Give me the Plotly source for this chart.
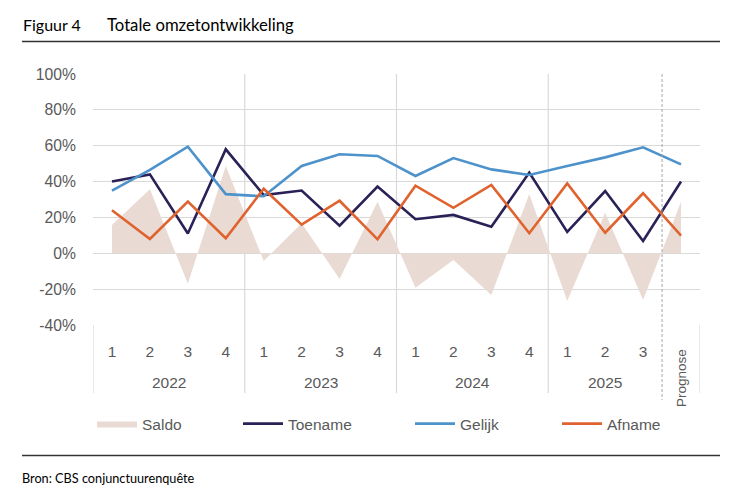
import plotly.graph_objects as go

# ---- data ----
quarters = ["1", "2", "3", "4", "1", "2", "3", "4", "1", "2", "3", "4", "1", "2", "3", ""]
years = ["2022", "2023", "2024", "2025"]
year_positions = [1.5, 5.5, 9.5, 13.0]
prognose_label = "Prognose"
y_tick_values = [-40, -20, 0, 20, 40, 60, 80, 100]
y_tick_labels = ["-40%", "-20%", "0%", "20%", "40%", "60%", "80%", "100%"]

toename = [40, 44, 11, 58, 32.5, 35, 15.4, 37.2, 19, 21.4, 14.8, 45, 11.9, 34.7, 6.9, 40]
gelijk = [35, 46.5, 59.5, 33, 31.8, 48.7, 55.2, 54.3, 43.1, 53.1, 46.8, 43.7, 48.7, 53.5, 59.1, 49.6]
afname = [24, 8, 28.8, 8.4, 36, 16, 29.3, 7.8, 37.7, 25.4, 38.1, 11.2, 39, 11.5, 33.5, 9.8]
saldo = [15.8, 35.7, -17, 48.7, -4.3, 16.7, -14.3, 28.8, -19.2, -3.7, -23.3, 33, -26.6, 22.6, -26, 28.8]

x = list(range(len(quarters)))

W, H = 735, 504
L, R, T, B = 93, 700, 74, 325
pw, ph = R - L, B - T


def px(v):
    return (v - L) / pw


def py(v):
    return (B - v) / ph


TICK_FONT = "Liberation Sans, Arial, sans-serif"
TITLE_FONT = "Lato, Open Sans, sans-serif"
GREY = "#595959"
GRID = "#d9d9d9"

fig = go.Figure()
fig.add_trace(go.Scatter(x=x, y=saldo, name="Saldo", mode="lines", fill="tozeroy",
                         line=dict(width=0, color="#e9dbd3"), fillcolor="#e9dbd3",
                         legend="legend"))
fig.add_trace(go.Scatter(x=x, y=toename, name="Toename", mode="lines",
                         line=dict(width=2.6, color="#2a2156"), legend="legend2"))
fig.add_trace(go.Scatter(x=x, y=gelijk, name="Gelijk", mode="lines",
                         line=dict(width=2.6, color="#4d92cb"), legend="legend3"))
fig.add_trace(go.Scatter(x=x, y=afname, name="Afname", mode="lines",
                         line=dict(width=2.6, color="#e0632f"), legend="legend4"))

legend_common = dict(orientation="h", yanchor="middle", xanchor="left",
                     font=dict(family=TICK_FONT, size=15.5, color=GREY),
                     itemwidth=40, bgcolor="rgba(0,0,0,0)", borderwidth=0)
leg_y = py(424)
fig.update_layout(
    legend=dict(x=px(92), y=leg_y, **legend_common),
    legend2=dict(x=px(238), y=leg_y, **legend_common),
    legend3=dict(x=px(410), y=leg_y, **legend_common),
    legend4=dict(x=px(557), y=leg_y, **legend_common),
)

shapes = []
for xs in [3.5, 7.5, 11.5]:
    shapes.append(dict(type="line", xref="x", yref="paper", x0=xs, x1=xs, y0=1, y1=py(393),
                       line=dict(color=GRID, width=1.2), layer="below"))
for xs in [-0.5, 15.5]:
    shapes.append(dict(type="line", xref="x", yref="paper", x0=xs, x1=xs, y0=0, y1=py(393),
                       line=dict(color=GRID, width=1.2), layer="below"))
shapes.append(dict(type="line", xref="x", yref="paper", x0=14.5, x1=14.5, y0=1, y1=py(400),
                   line=dict(color="#a6a6a6", width=1, dash="3px,2px"), layer="above"))
# title and source rules
shapes.append(dict(type="line", xref="paper", yref="paper", x0=px(22), x1=px(720), y0=py(41.5), y1=py(41.5),
                   line=dict(color="#333333", width=1.3)))
shapes.append(dict(type="line", xref="paper", yref="paper", x0=px(22), x1=px(720), y0=py(455.5), y1=py(455.5),
                   line=dict(color="#333333", width=1.3)))

annotations = []
for yr, xp in zip(years, year_positions):
    annotations.append(dict(x=xp, y=py(382), xref="x", yref="paper", text=yr, showarrow=False,
                            font=dict(family=TICK_FONT, size=15.5, color=GREY), yanchor="middle"))
annotations.append(dict(x=15, y=py(378), xref="x", yref="paper", text=prognose_label, showarrow=False,
                        textangle=-90, font=dict(family=TICK_FONT, size=13.5, color=GREY), yanchor="middle"))
annotations.append(dict(x=px(21), y=py(25), xref="paper", yref="paper", text="Figuur 4", showarrow=False,
                        xanchor="left", yanchor="middle", font=dict(family=TITLE_FONT, size=16, color="#000000")))
annotations.append(dict(x=px(105), y=py(25), xref="paper", yref="paper", text="Totale omzetontwikkeling",
                        showarrow=False, xanchor="left", yanchor="middle",
                        font=dict(family=TITLE_FONT, size=16.7, color="#000000")))
annotations.append(dict(x=px(20), y=py(478), xref="paper", yref="paper", text="Bron: CBS conjunctuurenquête",
                        showarrow=False, xanchor="left", yanchor="middle",
                        font=dict(family=TITLE_FONT, size=12.7, color="#000000")))

fig.update_layout(
    width=W, height=H,
    margin=dict(l=L, r=W - R, t=T, b=H - B, pad=0),
    paper_bgcolor="white", plot_bgcolor="white",
    showlegend=True,
    shapes=shapes, annotations=annotations,
    xaxis=dict(range=[-0.5, 15.5], tickmode="array", tickvals=x, ticktext=quarters,
               showgrid=False, zeroline=False, showline=False,
               ticks="outside", ticklen=12, tickcolor="rgba(0,0,0,0)",
               tickfont=dict(family=TICK_FONT, size=15.5, color=GREY), fixedrange=True),
    yaxis=dict(range=[-40, 100], tickmode="array", tickvals=y_tick_values, ticktext=y_tick_labels,
               showgrid=True, gridcolor=GRID, gridwidth=1.2,
               zeroline=False, showline=False, ticks="outside", ticklen=13, tickcolor="rgba(0,0,0,0)",
               tickfont=dict(family=TICK_FONT, size=15.7, color=GREY), fixedrange=True),
)

fig.write_html("out.html", config={"displayModeBar": False},
               post_script="document.body.style.margin='0';")
